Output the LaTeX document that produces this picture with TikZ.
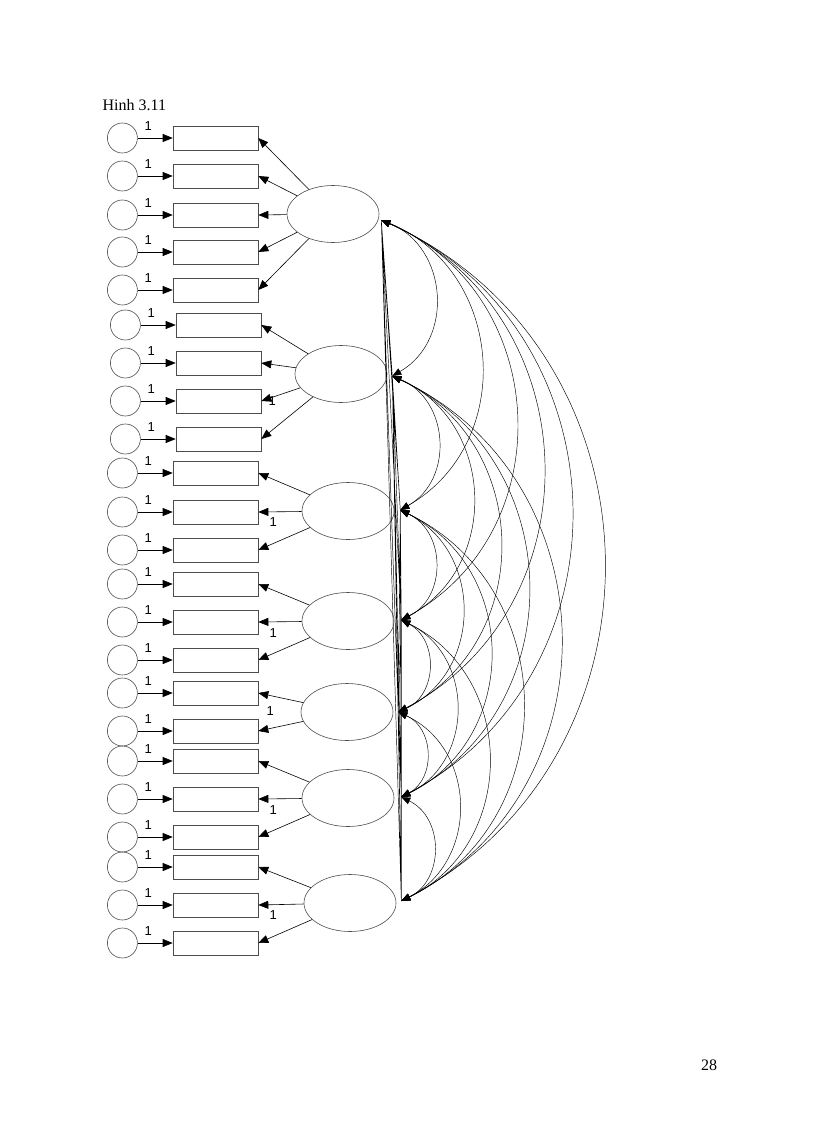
\documentclass[tikz,border=0pt]{standalone}
\usepackage{fontspec}
\setmainfont{Liberation Serif}
\newfontfamily\labelfont{Liberation Sans}
\usetikzlibrary{arrows.meta,positioning,shapes.geometric}

\begin{document}
\begin{tikzpicture}[
    x=1pt, y=-1pt, line width=0.6pt, node distance=35pt,
    ind/.style={rectangle, draw=black!70, minimum width=85pt, minimum height=24pt, inner sep=0pt},
    err/.style={circle, draw=black!70, minimum size=30pt, inner sep=0pt},
    fac/.style={ellipse, draw=black!70, minimum width=92pt, minimum height=57pt, inner sep=0pt},
    arr/.style={-{Triangle[length=10pt,width=8pt]}},
    cov/.style={{Triangle[length=9pt,width=7pt]}-{Triangle[length=9pt,width=7pt]}, bend left=64, looseness=1.18, line width=0.45pt},
    chord/.style={line width=0.45pt},
    one/.style={font=\labelfont\fontsize{13}{13}\selectfont, inner sep=1pt}
]
    \useasboundingbox (0,0) rectangle (816,1123);
    \node [anchor=base west] (title) at (99,111) {\fontsize{16}{19}\selectfont Hinh 3.11};
    \node [anchor=base] (page) at (709,1070) {\fontsize{16}{19}\selectfont 28};

    % factors
    \node [fac] (F1) at (333,214) {};
    \node [fac] (F2) at (341,374) {};
    \node [fac] (F3) at (348,511) {};
    \node [fac] (F4) at (348,621) {};
    \node [fac] (F5) at (347,712) {};
    \node [fac] (F6) at (348,798) {};
    \node [fac] (F7) at (350,903) {};

    % indicators with their errors
    \node [ind] (x1) at (215.5,138) {};  \node [err, left=of x1] (e1) {};  \draw [arr] (e1) -- node [one, above=6pt, pos=0.3] {1} (x1);
    \node [ind] (x2) at (215.5,176) {};  \node [err, left=of x2] (e2) {};  \draw [arr] (e2) -- node [one, above=6pt, pos=0.3] {1} (x2);
    \node [ind] (x3) at (215.5,215) {};  \node [err, left=of x3] (e3) {};  \draw [arr] (e3) -- node [one, above=6pt, pos=0.3] {1} (x3);
    \node [ind] (x4) at (215.5,252) {};  \node [err, left=of x4] (e4) {};  \draw [arr] (e4) -- node [one, above=6pt, pos=0.3] {1} (x4);
    \node [ind] (x5) at (215.5,290) {};  \node [err, left=of x5] (e5) {};  \draw [arr] (e5) -- node [one, above=6pt, pos=0.3] {1} (x5);
    \node [ind] (x6) at (218.5,325) {};  \node [err, left=of x6] (e6) {};  \draw [arr] (e6) -- node [one, above=6pt, pos=0.3] {1} (x6);
    \node [ind] (x7) at (218.5,363) {};  \node [err, left=of x7] (e7) {};  \draw [arr] (e7) -- node [one, above=6pt, pos=0.3] {1} (x7);
    \node [ind] (x8) at (218.5,401) {};  \node [err, left=of x8] (e8) {};  \draw [arr] (e8) -- node [one, above=6pt, pos=0.3] {1} (x8);
    \node [ind] (x9) at (218.5,439) {};  \node [err, left=of x9] (e9) {};  \draw [arr] (e9) -- node [one, above=6pt, pos=0.3] {1} (x9);
    \node [ind] (x10) at (215.5,473) {}; \node [err, left=of x10] (e10) {}; \draw [arr] (e10) -- node [one, above=6pt, pos=0.3] {1} (x10);
    \node [ind] (x11) at (215.5,512) {}; \node [err, left=of x11] (e11) {}; \draw [arr] (e11) -- node [one, above=6pt, pos=0.3] {1} (x11);
    \node [ind] (x12) at (215.5,550) {}; \node [err, left=of x12] (e12) {}; \draw [arr] (e12) -- node [one, above=6pt, pos=0.3] {1} (x12);
    \node [ind] (x13) at (215.5,584) {}; \node [err, left=of x13] (e13) {}; \draw [arr] (e13) -- node [one, above=6pt, pos=0.3] {1} (x13);
    \node [ind] (x14) at (215.5,622) {}; \node [err, left=of x14] (e14) {}; \draw [arr] (e14) -- node [one, above=6pt, pos=0.3] {1} (x14);
    \node [ind] (x15) at (215.5,660) {}; \node [err, left=of x15] (e15) {}; \draw [arr] (e15) -- node [one, above=6pt, pos=0.3] {1} (x15);
    \node [ind] (x16) at (215.5,693) {}; \node [err, left=of x16] (e16) {}; \draw [arr] (e16) -- node [one, above=6pt, pos=0.3] {1} (x16);
    \node [ind] (x17) at (215.5,731) {}; \node [err, left=of x17] (e17) {}; \draw [arr] (e17) -- node [one, above=6pt, pos=0.3] {1} (x17);
    \node [ind] (x18) at (215.5,761) {}; \node [err, left=of x18] (e18) {}; \draw [arr] (e18) -- node [one, above=6pt, pos=0.3] {1} (x18);
    \node [ind] (x19) at (215.5,799) {}; \node [err, left=of x19] (e19) {}; \draw [arr] (e19) -- node [one, above=6pt, pos=0.3] {1} (x19);
    \node [ind] (x20) at (215.5,837) {}; \node [err, left=of x20] (e20) {}; \draw [arr] (e20) -- node [one, above=6pt, pos=0.3] {1} (x20);
    \node [ind] (x21) at (215.5,867) {}; \node [err, left=of x21] (e21) {}; \draw [arr] (e21) -- node [one, above=6pt, pos=0.3] {1} (x21);
    \node [ind] (x22) at (215.5,905) {}; \node [err, left=of x22] (e22) {}; \draw [arr] (e22) -- node [one, above=6pt, pos=0.3] {1} (x22);
    \node [ind] (x23) at (215.5,943) {}; \node [err, left=of x23] (e23) {}; \draw [arr] (e23) -- node [one, above=6pt, pos=0.3] {1} (x23);

    % loadings
    \draw [arr] (F1) -- (x1.east);  \draw [arr] (F1) -- (x2.east);  \draw [arr] (F1) -- (x3.east);
    \draw [arr] (F1) -- (x4.east);  \draw [arr] (F1) -- (x5.east);
    \draw [arr] (F2) -- (x6.east);  \draw [arr] (F2) -- (x7.east);  \draw [arr] (F2) -- (x8.east);  \draw [arr] (F2) -- (x9.east);
    \draw [arr] (F3) -- (x10.east); \draw [arr] (F3) -- (x11.east); \draw [arr] (F3) -- (x12.east);
    \draw [arr] (F4) -- (x13.east); \draw [arr] (F4) -- (x14.east); \draw [arr] (F4) -- (x15.east);
    \draw [arr] (F5) -- (x16.east); \draw [arr] (F5) -- (x17.east);
    \draw [arr] (F6) -- (x18.east); \draw [arr] (F6) -- (x19.east); \draw [arr] (F6) -- (x20.east);
    \draw [arr] (F7) -- (x21.east); \draw [arr] (F7) -- (x22.east); \draw [arr] (F7) -- (x23.east);
    \node [one] (l8) at ([shift={(11,0)}]x8.east) {1};
    \node [one] (l11) at ([shift={(15,10)}]x11.east) {1};
    \node [one] (l14) at ([shift={(15,11)}]x14.east) {1};
    \node [one] (l16) at ([shift={(12,18)}]x16.east) {1};
    \node [one] (l19) at ([shift={(15,11)}]x19.east) {1};
    \node [one] (l22) at ([shift={(15,10)}]x22.east) {1};

    % covariances
    \coordinate (a1) at ([shift={(2,6)}]F1.east);
    \coordinate (a2) at ([shift={(5,2)}]F2.east);
    \coordinate (a3) at ([shift={(6,-1)}]F3.east);
    \coordinate (a4) at ([shift={(7,-1)}]F4.east);
    \coordinate (a5) at ([shift={(5,0)}]F5.east);
    \coordinate (a6) at ([shift={(7,-1)}]F6.east);
    \coordinate (a7) at ([shift={(5,-2)}]F7.east);
    \draw [chord] (a1) -- (a2) (a1) -- (a3) (a1) -- (a4) (a1) -- (a5) (a1) -- (a6) (a1) -- (a7)
        (a2) -- (a3) (a2) -- (a4) (a2) -- (a5) (a2) -- (a6) (a2) -- (a7)
        (a3) -- (a4) (a3) -- (a5) (a3) -- (a6) (a3) -- (a7)
        (a4) -- (a5) (a4) -- (a6) (a4) -- (a7) (a5) -- (a6) (a5) -- (a7) (a6) -- (a7);
    \draw [cov] (a1) to (a2); \draw [cov] (a1) to (a3); \draw [cov] (a1) to (a4);
    \draw [cov] (a1) to (a5); \draw [cov] (a1) to (a6); \draw [cov] (a1) to (a7);
    \draw [cov] (a2) to (a3); \draw [cov] (a2) to (a4); \draw [cov] (a2) to (a5);
    \draw [cov] (a2) to (a6); \draw [cov] (a2) to (a7);
    \draw [cov] (a3) to (a4); \draw [cov] (a3) to (a5); \draw [cov] (a3) to (a6); \draw [cov] (a3) to (a7);
    \draw [cov] (a4) to (a5); \draw [cov] (a4) to (a6); \draw [cov] (a4) to (a7);
    \draw [cov] (a5) to (a6); \draw [cov] (a5) to (a7);
    \draw [cov] (a6) to (a7);
\end{tikzpicture}
\end{document}
